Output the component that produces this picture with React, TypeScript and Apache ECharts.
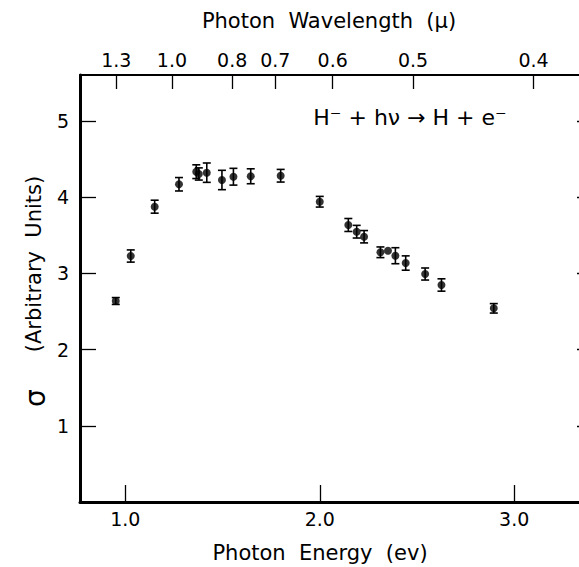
import React, { useEffect, useRef } from "react";
import * as echarts from "echarts";

// Photon energy (eV) of each measurement
const energyEv = [0.951, 1.028, 1.151, 1.276, 1.365, 1.378, 1.419, 1.497, 1.556, 1.645, 1.799, 2.0, 2.147, 2.19, 2.228, 2.312, 2.351, 2.389, 2.442, 2.542, 2.626, 2.895];
// Cross section sigma (arbitrary units)
const sigma = [2.636, 3.226, 3.873, 4.167, 4.332, 4.302, 4.319, 4.223, 4.266, 4.272, 4.279, 3.938, 3.633, 3.545, 3.479, 3.275, 3.296, 3.23, 3.134, 2.99, 2.846, 2.54];
// Half-length of error bars
const sigmaErr = [0.045, 0.08, 0.085, 0.088, 0.09, 0.08, 0.127, 0.127, 0.11, 0.098, 0.083, 0.07, 0.085, 0.083, 0.081, 0.07, 0, 0.105, 0.094, 0.079, 0.081, 0.062];

const energyTicks = [1, 2, 3];
const sigmaTicks = [1, 2, 3, 4, 5];
const wavelengthTicks = [1.3, 1.0, 0.8, 0.7, 0.6, 0.5, 0.4];
const HC = 1.2398; // eV·µm

const X_MIN = 0.767;
const X_MAX = 3.395;
const Y_MIN = 0;
const Y_MAX = 5.6;

export default function App() {
  const ref = useRef<HTMLDivElement>(null);
  useEffect(() => {
    document.body.style.margin = "0";
    const chart = echarts.init(ref.current as HTMLDivElement, null, { renderer: "svg" });
    const font = "DejaVu Sans";
    const topEnergies = wavelengthTicks.map((w) => HC / w);
    const labelStyle = { fontFamily: font, fontSize: 19, color: "#000" };
    const option: any = {
      animation: false,
      backgroundColor: "#fff",
      grid: { left: 80, right: 9, top: 75, bottom: 65 },
      xAxis: [
        {
          type: "value",
          position: "bottom",
          min: X_MIN,
          max: X_MAX,
          axisLine: { show: true, onZero: false, lineStyle: { color: "#000", width: 3 } },
          axisTick: { show: true, inside: true, length: 17, customValues: energyTicks, lineStyle: { color: "#000", width: 1.3 } },
          axisLabel: { ...labelStyle, customValues: energyTicks, margin: 7, formatter: (v: number) => v.toFixed(1) },
          splitLine: { show: false },
        },
        {
          type: "value",
          position: "top",
          min: X_MIN,
          max: X_MAX,
          axisLine: { show: true, onZero: false, lineStyle: { color: "#000", width: 2 } },
          axisTick: { show: true, inside: true, length: 14, customValues: topEnergies, lineStyle: { color: "#000", width: 1.3 } },
          axisLabel: {
            ...labelStyle,
            customValues: topEnergies,
            margin: 6,
            formatter: (v: number) => {
              let best = 0;
              for (let i = 0; i < topEnergies.length; i++) {
                if (Math.abs(topEnergies[i] - v) < Math.abs(topEnergies[best] - v)) best = i;
              }
              return wavelengthTicks[best].toFixed(1);
            },
          },
          splitLine: { show: false },
        },
      ],
      yAxis: [
        {
          type: "value",
          position: "left",
          min: Y_MIN,
          max: Y_MAX,
          axisLine: { show: true, onZero: false, lineStyle: { color: "#000", width: 3 } },
          axisTick: { show: true, inside: true, length: 16, customValues: sigmaTicks, lineStyle: { color: "#000", width: 1.3 } },
          axisLabel: { ...labelStyle, customValues: sigmaTicks, margin: 11, formatter: (v: number) => String(Math.round(v)) },
          splitLine: { show: false },
        },
        {
          type: "value",
          position: "right",
          min: Y_MIN,
          max: Y_MAX,
          axisLine: { show: true, onZero: false, lineStyle: { color: "#000", width: 2 } },
          axisTick: { show: true, inside: true, length: 14, customValues: sigmaTicks, lineStyle: { color: "#000", width: 1.3 } },
          axisLabel: { show: false },
          splitLine: { show: false },
        },
      ],
      series: [
        {
          type: "custom",
          xAxisIndex: 0,
          yAxisIndex: 0,
          data: energyEv.map((x, i) => [x, sigma[i], sigmaErr[i]]),
          encode: { x: 0, y: 1 },
          renderItem: (params: any, api: any) => {
            const x = api.value(0);
            const y = api.value(1);
            const e = api.value(2);
            if (!e) return { type: "group", children: [] };
            const top = api.coord([x, y + e]);
            const bot = api.coord([x, y - e]);
            const cap = 4;
            const style = { stroke: "#000", lineWidth: 1.6 };
            return {
              type: "group",
              children: [
                { type: "line", shape: { x1: top[0], y1: top[1], x2: bot[0], y2: bot[1] }, style },
                { type: "line", shape: { x1: top[0] - cap, y1: top[1], x2: top[0] + cap, y2: top[1] }, style },
                { type: "line", shape: { x1: bot[0] - cap, y1: bot[1], x2: bot[0] + cap, y2: bot[1] }, style },
              ],
            };
          },
          z: 2,
        },
        {
          type: "scatter",
          xAxisIndex: 0,
          yAxisIndex: 0,
          data: energyEv.map((x, i) => [x, sigma[i]]),
          symbol: "circle",
          symbolSize: 8,
          itemStyle: { color: "#000" },
          z: 3,
        },
      ],
      graphic: [
        {
          type: "text",
          x: 329,
          y: 21,
          style: { text: "Photon  Wavelength  (μ)", fontFamily: font, fontSize: 21, fill: "#000", align: "center", verticalAlign: "middle" },
        },
        {
          type: "text",
          x: 320,
          y: 553,
          style: { text: "Photon  Energy  (ev)", fontFamily: font, fontSize: 21, fill: "#000", align: "center", verticalAlign: "middle" },
        },
        {
          type: "text",
          x: 34,
          y: 264,
          rotation: Math.PI / 2,
          style: { text: "(Arbitrary  Units)", fontFamily: font, fontSize: 21, fill: "#000", align: "center", verticalAlign: "middle" },
        },
        {
          type: "text",
          x: 35,
          y: 398,
          rotation: Math.PI / 2,
          style: { text: "σ", fontFamily: font, fontSize: 28, fill: "#000", align: "center", verticalAlign: "middle" },
        },
        {
          type: "text",
          x: 410,
          y: 117,
          style: { text: "H⁻ + hν → H + e⁻", fontFamily: font, fontSize: 22, fill: "#000", align: "center", verticalAlign: "middle" },
        },
      ],
    };
    chart.setOption(option);
    return () => chart.dispose();
  }, []);
  return (
    <div style={{ position: "absolute", left: 0, top: 0, width: 579, height: 567, overflow: "hidden", background: "#fff" }}>
      <div ref={ref} style={{ width: 600, height: 567 }} />
    </div>
  );
}
